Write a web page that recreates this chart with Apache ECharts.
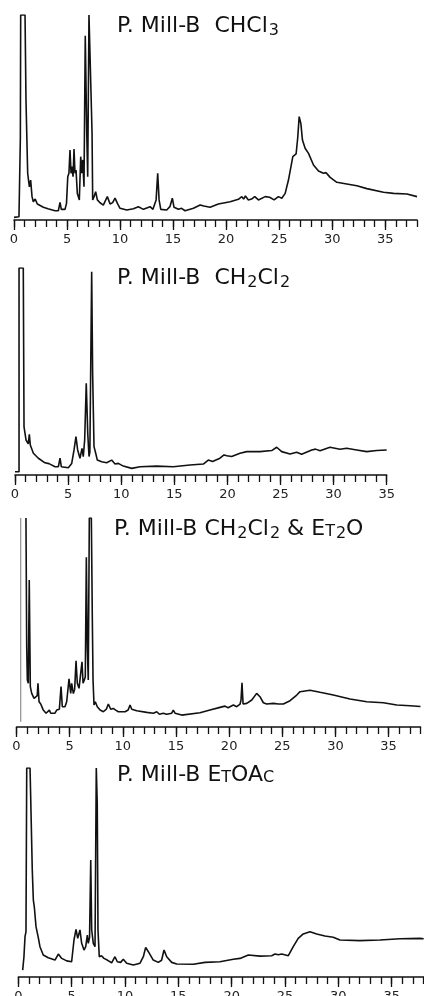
<!DOCTYPE html>
<html>
<head>
<meta charset="utf-8">
<script src="https://cdn.jsdelivr.net/npm/echarts@6/dist/echarts.min.js"></script>
<style>
  html, body { margin: 0; padding: 0; background: #fff; }
  #chart { width: 424px; height: 996px; }
</style>
</head>
<body>
<div id="chart"></div>
<script>
// retention time (min) vs detector response (% of full scale)
const chcl3Trace = [[0,1.3],[0.47,1.6],[0.6,40],[0.63,100],[1.04,100],[1.13,58.5],[1.29,22.8],[1.45,16.2],[1.57,19.5],[1.7,11.4],[1.82,8.9],[2.0,10.2],[2.2,7.8],[2.77,6.2],[3.2,5.5],[3.87,4.5],[4.18,4.5],[4.34,8.6],[4.46,5.2],[4.81,5.2],[4.95,8.1],[5.07,21.1],[5.18,22.8],[5.28,34.1],[5.38,22.8],[5.47,26],[5.57,21.1],[5.66,34.6],[5.75,22.8],[5.85,24.4],[5.97,13],[6.16,9.8],[6.29,30.9],[6.38,22.8],[6.48,29.3],[6.6,16.2],[6.72,89.9],[6.86,42.3],[6.95,21.1],[7.07,100],[7.23,100],[7.36,42.4],[7.42,9.8],[7.55,11.4],[7.7,13.8],[7.86,9.8],[8.11,8.4],[8.42,7.3],[8.8,11.4],[9.06,7.8],[9.3,8.5],[9.53,10.7],[9.75,8.1],[10.0,5.7],[10.63,4.9],[11.26,5.5],[11.73,6.5],[12.2,5.2],[12.83,6.5],[13.1,5.2],[13.4,9.8],[13.55,22.8],[13.68,9.8],[13.84,5.2],[14.4,4.9],[14.7,6.5],[14.93,10.6],[15.09,6.2],[15.5,5.2],[15.8,5.7],[16.13,4.5],[16.92,5.7],[17.55,7.3],[17.9,6.8],[18.49,6.2],[19.27,7.8],[20.38,8.9],[21.16,10.1],[21.48,11.4],[21.65,10.2],[21.82,11.7],[22.1,9.8],[22.4,10.2],[22.7,11.4],[23.05,9.8],[23.68,11.4],[24.1,11.1],[24.53,9.8],[24.93,11.4],[25.25,10.6],[25.57,13],[25.88,19.5],[26.29,30.9],[26.6,32.2],[26.75,40],[26.89,50.4],[27.05,47],[27.2,39],[27.45,35],[27.77,32.5],[28.24,26.8],[28.71,23.9],[29.18,22.8],[29.43,23.1],[29.81,20.8],[30.44,18.4],[31.38,17.6],[32.33,16.7],[33.27,15.3],[34.84,13.5],[35.79,13],[37.05,12.7],[38,11.4]];

const ch2cl2Trace = [[0,1.6],[0.38,1.6],[0.38,100],[0.78,100],[0.85,23.3],[1.04,16.9],[1.25,15],[1.35,19.7],[1.44,14.5],[1.73,10.5],[2.2,8.1],[2.82,5.9],[3.2,5.5],[3.77,4],[4.08,4],[4.24,8.1],[4.36,4],[5.02,3.5],[5.34,5.6],[5.56,12.1],[5.74,18.5],[5.9,12.1],[6.12,8.1],[6.31,12.9],[6.43,8.9],[6.56,16.9],[6.71,44.3],[6.85,20.1],[6.97,8.9],[7.05,11],[7.22,98.2],[7.31,49.1],[7.44,13.7],[7.6,10.5],[7.75,7.2],[7.9,7.6],[8.16,6.4],[8.63,5.9],[9.1,7.2],[9.42,5.3],[9.73,5.6],[10.2,4.3],[10.99,3.2],[11.77,4],[13.34,4.3],[14.9,4],[16.48,4.8],[17.73,5.3],[18.2,7.2],[18.6,6.5],[19.3,8.1],[19.68,9.7],[19.95,9.3],[20.4,8.9],[21.19,10.5],[21.82,11.3],[23.07,11.3],[24.17,11.8],[24.64,13.4],[25.11,11.3],[25.9,10.1],[26.52,11],[26.99,10],[27.94,12.1],[28.3,12.5],[28.72,11.7],[29.66,13.4],[30.6,12.4],[31.23,12.9],[32.17,12.1],[33.12,11.3],[34.06,11.8],[35,12.1]];

const ch2cl2Et2oTrace = [[0.89,100],[0.96,38.4],[1.02,22.5],[1.11,20.9],[1.2,70.3],[1.3,19.3],[1.43,16.1],[1.65,13.7],[1.83,12.9],[1.95,15],[2.02,20.9],[2.12,12.1],[2.28,11],[2.52,8.1],[2.78,6.6],[3.09,8.1],[3.22,6.6],[3.62,6.6],[3.78,8.1],[4.03,8.5],[4.19,19.3],[4.31,9.7],[4.56,9.7],[4.72,12.1],[4.94,23],[5.1,16.1],[5.19,20.9],[5.35,16],[5.47,18],[5.6,31.7],[5.72,20.9],[5.88,18.5],[6.04,17.7],[6.16,31.2],[6.26,20.9],[6.38,22.5],[6.47,24],[6.57,81.2],[6.66,38.4],[6.75,22.5],[6.85,100],[7.04,100],[7.13,52.8],[7.2,22.5],[7.29,10.5],[7.41,12.1],[7.6,9.7],[7.86,8.1],[8.17,7.3],[8.45,8.5],[8.64,11],[8.86,8.5],[9.1,8.9],[9.33,8.1],[9.58,7.3],[10.21,7.3],[10.5,8.1],[10.68,10.5],[10.84,8.5],[11.31,7.8],[12.25,7],[12.87,6.6],[13.19,7.3],[13.44,6.1],[13.8,6.6],[14.13,6.1],[14.6,6.6],[14.75,8.1],[14.91,6.6],[15.54,5.7],[17.26,6.8],[18.2,8.1],[19.14,9.4],[19.61,10],[19.9,9.2],[20.4,10.5],[20.71,9.7],[21.03,11],[21.12,13],[21.21,21.2],[21.31,11],[21.66,11.3],[22.13,12.9],[22.59,16.1],[22.9,14.5],[23.22,11.6],[23.53,11],[24.16,11.3],[24.63,11],[25.1,11],[25.73,12.6],[26.36,15.3],[26.67,16.9],[27.61,17.6],[28.55,16.6],[29.8,15.3],[31.37,13.4],[32.94,12.1],[34.51,11.6],[35.77,10.5],[37.02,10.2],[38,9.8]];
const injectionMark = [[0.4,2.5],[0.4,100]];

const etoacTrace = [[0.41,3.3],[0.53,9.7],[0.63,19.3],[0.72,21.7],[0.79,100],[1.1,100],[1.16,86.3],[1.31,51.2],[1.41,36.8],[1.5,33.6],[1.66,24.1],[1.87,19],[2.03,14.5],[2.34,10.5],[2.81,9.2],[3.44,8.1],[3.75,11],[4.07,8.9],[4.54,7.7],[5,7.3],[5.22,17.7],[5.41,22.8],[5.57,18.5],[5.78,22.5],[5.94,16.1],[6.16,12.9],[6.32,14.5],[6.47,20.1],[6.56,16.1],[6.68,19],[6.79,56],[6.88,22.5],[7.03,16.1],[7.19,14.5],[7.31,100],[7.4,83.1],[7.47,22.5],[7.59,9.7],[7.8,10.2],[8.03,8.9],[8.34,8.1],[8.75,6.8],[9.06,9.7],[9.28,7.3],[9.59,7],[9.84,8.5],[10.16,6.6],[10.78,5.7],[11.41,6.6],[11.72,9.7],[11.94,14.2],[12.19,12.1],[12.65,8.1],[13.12,7],[13.43,8],[13.66,12.9],[13.91,9.7],[14.38,7],[14.85,6.2],[16.4,6.1],[17.5,7],[18.9,7.3],[20.15,8.5],[20.78,8.9],[21.56,10.5],[22.65,10],[23.75,10.2],[24.06,11],[24.37,10.6],[24.69,11],[25.31,10.2],[25.77,14.5],[26.24,18.5],[26.71,20.6],[27.34,21.7],[27.97,20.6],[28.74,19.6],[29.52,19],[30.15,17.7],[32.02,17.4],[33.9,17.7],[35.77,18.3],[37.65,18.5],[38,18.3]];

// axis labels (every 5 min); minor ticks every minute
const timeLabels = [0, 5, 10, 15, 20, 25, 30, 35];

// panel layout (px)
const panels = [
  { left: 14, top: 15, width: 403, height: 205, max: 38 },
  { left: 15, top: 268, width: 371.7, height: 207, max: 35 },
  { left: 16.5, top: 518, width: 404, height: 209, max: 38 },
  { left: 18.3, top: 768, width: 405.4, height: 209, max: 38 },
]

const ink = '#111'
const font = 'DejaVu Sans'

const chart = echarts.init(document.getElementById('chart'))

// outerBoundsMode none: keep the grids where they are, even if labels run off the page
const grid = panels.map(p => ({
  left: p.left, top: p.top, width: p.width, height: p.height,
  containLabel: false, outerBoundsMode: 'none',
}))
const xAxis = []
const yAxis = []
panels.forEach((p, i) => {
  // axis line, a tick every minute, label every 5 min
  xAxis.push({
    type: 'value', gridIndex: i, position: 'bottom', min: 0, max: p.max, interval: 1,
    axisLine: { show: true, lineStyle: { color: ink, width: 1.5 } },
    axisTick: { show: true, length: 7, lineStyle: { color: ink, width: 1.3 } },
    axisLabel: {
      show: true, margin: 13, fontSize: 13, fontFamily: font, color: '#222',
      showMinLabel: true, showMaxLabel: true, hideOverlap: false,
      formatter: v => (timeLabels.includes(v) ? String(v) : ''),
    },
    splitLine: { show: false },
  })
  // longer ticks every 5 min
  xAxis.push({
    type: 'value', gridIndex: i, position: 'bottom', min: 0, max: p.max,
    axisLine: { show: false },
    axisTick: { show: true, customValues: timeLabels, length: 10, lineStyle: { color: ink, width: 1.3 } },
    axisLabel: { show: false },
    splitLine: { show: false },
  })
  yAxis.push({ type: 'value', gridIndex: i, min: 0, max: 100, show: false })
})

const traceStyle = { color: ink, width: 1.6 }
const mkLine = (data, i, style) => ({
  type: 'line', xAxisIndex: i * 2, yAxisIndex: i, data,
  showSymbol: false, symbol: 'none', smooth: false, lineStyle: style || traceStyle,
})

const rich = {
  m: { fontSize: 22, fontFamily: font, fontWeight: 'normal', color: ink },
  s: { fontSize: 16, fontFamily: font, fontWeight: 'normal', color: ink, padding: [10, 0, 0, 1] },
  c: { fontSize: 16, fontFamily: font, fontWeight: 'normal', color: ink, padding: [5, 0, 0, 0] },
}
const mkTitle = (text, left, top) => ({ text, left, top, textStyle: { fontWeight: 'normal', rich } })

chart.setOption({
  animation: false,
  title: [
    mkTitle('{m|P. Mill-B  CHCl}{s|3}', 112, 8),
    mkTitle('{m|P. Mill-B  CH}{s|2}{m|Cl}{s|2}', 112, 260),
    mkTitle('{m|P. Mill-B CH}{s|2}{m|Cl}{s|2}{m| & E}{c|T}{s|2}{m|O}', 109, 511),
    mkTitle('{m|P. Mill-B E}{c|T}{m|OA}{c|C}', 112, 759),
  ],
  grid,
  xAxis,
  yAxis,
  series: [
    mkLine(chcl3Trace, 0),
    mkLine(ch2cl2Trace, 1),
    mkLine(injectionMark, 2, { color: '#555', width: 0.8 }),
    mkLine(ch2cl2Et2oTrace, 2),
    mkLine(etoacTrace, 3),
  ],
})
</script>
</body>
</html>
